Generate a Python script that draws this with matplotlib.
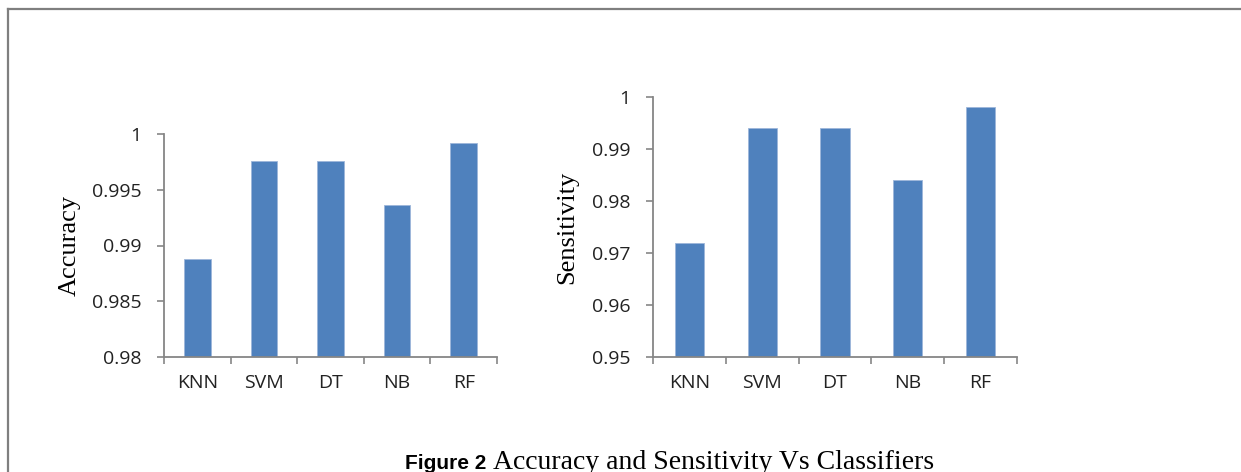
import matplotlib
matplotlib.use("Agg")
import matplotlib.pyplot as plt
from matplotlib.lines import Line2D
from matplotlib.ticker import FuncFormatter, FixedLocator

# data
classifiers = ["KNN", "SVM", "DT", "NB", "RF"]
accuracy = [0.9888, 0.9976, 0.9976, 0.9936, 0.9992]
sensitivity = [0.972, 0.994, 0.994, 0.984, 0.998]

acc_ticks = [0.98, 0.985, 0.99, 0.995, 1.0]
sens_ticks = [0.95, 0.96, 0.97, 0.98, 0.99, 1.0]

bar_color = "#4F81BD"
axis_color = "#868686"
serif_font = "Liberation Serif"

plt.rcParams["font.family"] = ["Open Sans", "DejaVu Sans"]

W, H = 1241, 472
fig = plt.figure(figsize=(W / 100, H / 100), dpi=100)


def px_rect(x0, y0, x1, y1):
    # pixel box (top-left origin) -> figure fraction rect
    return [x0 / W, 1 - y1 / H, (x1 - x0) / W, (y1 - y0) / H]


def bar_panel(rect, values, ticks, ylabel, label_x):
    ax = fig.add_axes(rect)
    x = list(range(len(classifiers)))
    ax.bar(x, values, width=0.4, color=bar_color, edgecolor="#9DB6DA", linewidth=0.6)
    ax.set_xlim(-0.5, len(classifiers) - 0.5)
    ax.set_ylim(ticks[0], ticks[-1])
    ax.set_yticks(ticks)
    ax.yaxis.set_major_formatter(FuncFormatter(lambda v, p: f"{v:g}"))
    ax.set_xticks(x)
    ax.set_xticklabels(classifiers)
    ax.xaxis.set_minor_locator(FixedLocator([i - 0.5 for i in range(len(classifiers) + 1)]))
    for s in ["top", "right"]:
        ax.spines[s].set_visible(False)
    for s in ["left", "bottom"]:
        ax.spines[s].set_color(axis_color)
        ax.spines[s].set_linewidth(1.3)
    ax.tick_params(axis="x", which="major", length=0, pad=12, labelsize=14, labelcolor="#222222")
    ax.tick_params(axis="x", which="minor", length=5, width=1.2, color=axis_color)
    ax.tick_params(axis="y", length=5, width=1.2, color=axis_color, pad=11,
                   labelsize=14, labelcolor="#222222")
    ax.set_ylabel(ylabel, fontfamily=serif_font, fontsize=19)
    ax.yaxis.set_label_coords(label_x, 0.5)
    ax.patch.set_alpha(0)
    return ax


ax1 = bar_panel(px_rect(164, 134, 497, 357), accuracy, acc_ticks, "Accuracy", -0.25)
ax2 = bar_panel(px_rect(653, 97, 1017, 357), sensitivity, sens_ticks, "Sensitivity", -0.205)

# frame lines of the surrounding box
fig.add_artist(Line2D([8 / W, 1.0], [1 - 9 / H, 1 - 9 / H], color="#7f7f7f", linewidth=1.6))
fig.add_artist(Line2D([8 / W, 8 / W], [0, 1 - 9 / H], color="#7f7f7f", linewidth=1.6))

# caption
fig.text(405 / W, 1 - 469 / H, "Figure 2", fontfamily="Liberation Sans", fontweight="bold",
         fontsize=15, va="baseline", ha="left")
fig.text(493 / W, 1 - 469 / H, "Accuracy and Sensitivity Vs Classifiers",
         fontfamily=serif_font, fontsize=20, va="baseline", ha="left")

fig.savefig("out.png", dpi=100)
